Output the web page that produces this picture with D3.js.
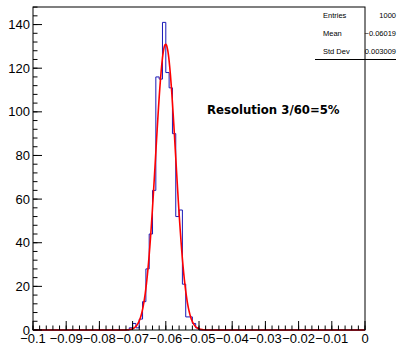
<!DOCTYPE html>
<html>
<head>
<meta charset="utf-8">
<script src="https://cdn.jsdelivr.net/npm/d3@7"></script>
<style>
  body { margin: 0; background: #fff; }
</style>
</head>
<body>
<div id="myChart"></div>
<script>
// histogram: 100 bins from -0.1 to 0, only non-empty ones listed
var firstBinLow = -0.071;
var binWidth = 0.001;
var counts = [1, 3, 1, 5, 13, 28, 44, 64, 116, 115, 141, 118, 111, 90, 52, 55, 21, 6, 6, 3, 1];

// gaussian fit parameters
var fitConst = 131;
var fitMean = -0.06005;
var fitSigma = 0.00303;

var xTicks = [-0.1, -0.09, -0.08, -0.07, -0.06, -0.05, -0.04, -0.03, -0.02, -0.01, 0];
var yTicks = [0, 20, 40, 60, 80, 100, 120, 140];

var statNames = ["Entries", "Mean", "Std Dev"];
var statValues = ["1000", "\u22120.06019", "0.003009"];

var W = 397, H = 346;
var fLeft = 33, fRight = 365, fTop = 7, fBottom = 330;
var font = "Liberation Sans, Arial, sans-serif";

var x = d3.scaleLinear().domain([-0.1, 0]).range([fLeft, fRight]);
var y = d3.scaleLinear().domain([0, 141 * 1.05]).range([fBottom, fTop]);

var svg = d3.select("#myChart")
    .append("svg")
    .attr("width", W).attr("height", H)
    .style("font-family", font);

// histogram outline, ROOT style: only the steps
var pts = [[x(-0.1), y(0)], [x(firstBinLow), y(0)]];
counts.forEach(function(c, i) {
    var lo = firstBinLow + i * binWidth;
    pts.push([x(lo), y(c)]);
    pts.push([x(lo + binWidth), y(c)]);
});
pts.push([x(firstBinLow + counts.length * binWidth), y(0)]);
pts.push([x(0), y(0)]);

svg.append("path")
    .attr("d", d3.line()(pts))
    .attr("fill", "none")
    .attr("stroke", "#1a1ab8")
    .attr("stroke-width", 1);

// fit curve
var fx = d3.range(-0.1, 0.00001, 0.0002);
var fit = d3.line()
    .x(function(d) { return x(d); })
    .y(function(d) { return y(fitConst * Math.exp(-0.5 * Math.pow((d - fitMean) / fitSigma, 2))); })
    .curve(d3.curveMonotoneX);

svg.append("path")
    .datum(fx)
    .attr("d", fit)
    .attr("fill", "none")
    .attr("stroke", "#ff0000")
    .attr("stroke-width", 1.6);

// frame
svg.append("rect")
    .attr("x", fLeft).attr("y", fTop)
    .attr("width", fRight - fLeft).attr("height", fBottom - fTop)
    .attr("fill", "none")
    .attr("stroke", "#000")
    .attr("stroke-width", 1);

// x axis ticks
var xMinor = d3.range(0, 51).map(function(i) { return -0.1 + i * 0.002; });
svg.selectAll(".xminor")
    .data(xMinor)
    .enter().append("line")
    .attr("x1", function(d) { return x(d); }).attr("x2", function(d) { return x(d); })
    .attr("y1", fBottom).attr("y2", fBottom - 4.5)
    .attr("stroke", "#000");
svg.selectAll(".xmajor")
    .data(xTicks)
    .enter().append("line")
    .attr("x1", function(d) { return x(d); }).attr("x2", function(d) { return x(d); })
    .attr("y1", fBottom).attr("y2", fBottom - 9)
    .attr("stroke", "#000");
svg.selectAll(".xlab")
    .data(xTicks)
    .enter().append("text")
    .attr("x", function(d) { return x(d); })
    .attr("y", 343)
    .attr("text-anchor", "middle")
    .attr("font-size", "13px")
    .text(function(d) { return d3.format("~g")(d); });

// y axis ticks
var yMinor = d3.range(0, 38).map(function(i) { return i * 4; });
svg.selectAll(".yminor")
    .data(yMinor)
    .enter().append("line")
    .attr("x1", fLeft).attr("x2", fLeft + 4.5)
    .attr("y1", function(d) { return y(d); }).attr("y2", function(d) { return y(d); })
    .attr("stroke", "#000");
svg.selectAll(".ymajor")
    .data(yTicks)
    .enter().append("line")
    .attr("x1", fLeft).attr("x2", fLeft + 9)
    .attr("y1", function(d) { return y(d); }).attr("y2", function(d) { return y(d); })
    .attr("stroke", "#000");
svg.selectAll(".ylab")
    .data(yTicks)
    .enter().append("text")
    .attr("x", 30)
    .attr("y", function(d) { return y(d) + 4.5; })
    .attr("text-anchor", "end")
    .attr("font-size", "13px")
    .text(function(d) { return d; });

// annotation
svg.append("text")
    .attr("x", 207).attr("y", 114)
    .style("font-family", "DejaVu Sans")
    .attr("font-weight", "bold")
    .attr("font-size", "11.7px")
    .text("Resolution 3/60=5%");

// stats box
svg.append("line")
    .attr("x1", 315).attr("x2", 396)
    .attr("y1", 59.5).attr("y2", 59.5)
    .attr("stroke", "#000");
statNames.forEach(function(s, i) {
    svg.append("text")
        .attr("x", 323).attr("y", 17.5 + i * 18)
        .attr("font-size", "7.5px")
        .text(s);
    svg.append("text")
        .attr("x", 396).attr("y", 17.5 + i * 18)
        .attr("text-anchor", "end")
        .attr("font-size", "7.5px")
        .text(statValues[i]);
});
</script>
</body>
</html>
